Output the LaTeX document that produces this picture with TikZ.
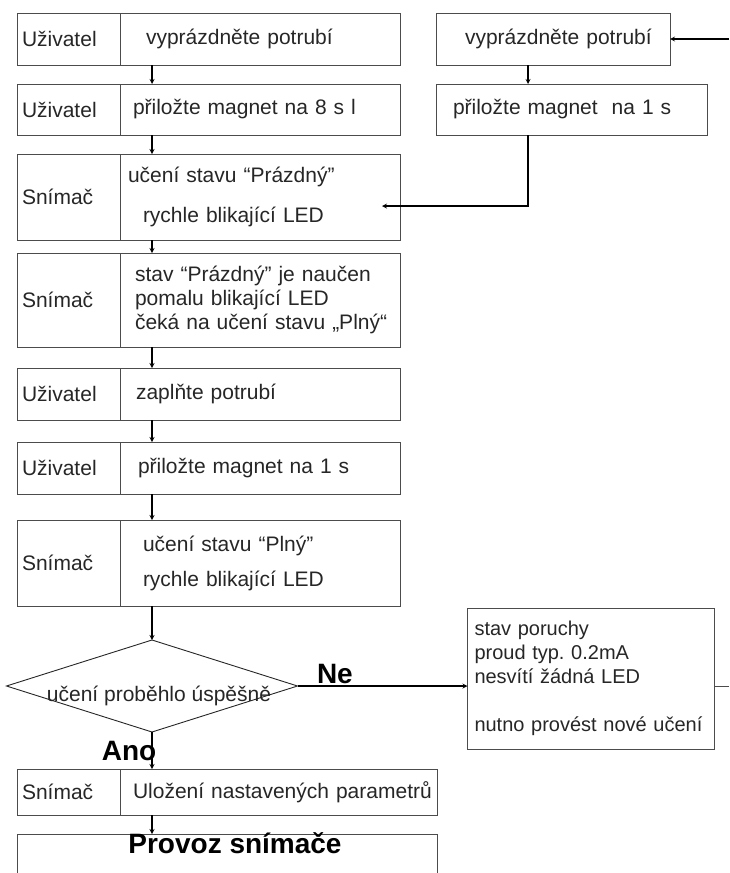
\documentclass[tikz,border=0pt]{standalone}
\usepackage{fontspec}
\setmainfont{Liberation Sans}
\usetikzlibrary{shapes, arrows, positioning}

\begin{document}
\begin{tikzpicture}[
  x=1pt, y=-1pt,
  >=stealth,
  txt/.style={font=\fontsize{21pt}{24pt}\selectfont, text=black!85},
  role/.style={draw=black!70, line width=1pt, rectangle, text width=93pt, inner xsep=5pt, inner ysep=0pt, outer sep=0pt, align=left, txt},
  stepbox/.style={draw=black!70, line width=1pt, rectangle, text width=280pt, inner xsep=0pt, inner ysep=0pt, outer sep=0pt, align=left, txt},
  decision/.style={draw=black!85, line width=0.9pt, diamond, minimum width=291pt, minimum height=92pt, inner sep=0pt, outer sep=0pt},
  finalbox/.style={draw=black!70, line width=1pt, rectangle, minimum width=420pt, minimum height=60pt, inner sep=0pt, outer sep=0pt},
  flow/.style={->, line width=1.2pt, black},
  answer/.style={font=\fontsize{28pt}{30pt}\selectfont\bfseries, inner sep=2pt}
]

\path[use as bounding box, clip] (0,0) rectangle (729,873);

% left column
\node[role, minimum height=52pt, anchor=north west] (r1) at (17,13) {Uživatel};
\node[stepbox, minimum height=52pt, right=0pt of r1] (s1) {\hspace*{26pt}vyprázdněte potrubí};

\node[role, minimum height=51pt, below=19pt of r1] (r2) {Uživatel};
\node[stepbox, minimum height=51pt, right=0pt of r2] (s2) {\hspace*{13pt}přiložte magnet na 8 s l};

\node[role, minimum height=86pt, below=19pt of r2] (r3) {Snímač};
\node[stepbox, minimum height=86pt, right=0pt of r3] (s3)
  {\hspace*{8pt}učení stavu “Prázdný”\\[16pt]\hspace*{23pt}rychle blikající LED};

\node[role, minimum height=94pt, below=13pt of r3] (r4) {Snímač};
\node[stepbox, minimum height=94pt, right=0pt of r4] (s4)
  {\hspace*{15pt}stav “Prázdný” je naučen\\\hspace*{15pt}pomalu blikající LED\\\hspace*{15pt}čeká na učení stavu „Plný“};

\node[role, minimum height=52pt, below=21pt of r4] (r5) {Uživatel};
\node[stepbox, minimum height=52pt, right=0pt of r5] (s5) {\hspace*{16pt}zaplňte potrubí};

\node[role, minimum height=52pt, below=22pt of r5] (r6) {Uživatel};
\node[stepbox, minimum height=52pt, right=0pt of r6] (s6) {\hspace*{18pt}přiložte magnet na 1 s};

\node[role, minimum height=86pt, below=26pt of r6] (r7) {Snímač};
\node[stepbox, minimum height=86pt, right=0pt of r7] (s7)
  {\hspace*{23pt}učení stavu “Plný”\\[11pt]\hspace*{23pt}rychle blikající LED};

% decision
\node[decision, below=34pt of s7.south west, xshift=32pt,
  label={[txt, xshift=7pt, yshift=-10pt]center:učení proběhlo úspěšně}] (dec) {};

\node[role, minimum height=46pt, below=163pt of r7] (r8) {Snímač};
\node[stepbox, text width=317pt, minimum height=46pt, right=0pt of r8] (s8) {\hspace*{13pt}Uložení nastavených parametrů};

\node[finalbox, below=19pt of r8.south west, anchor=north west,
  label={[answer, anchor=north, inner sep=0pt, xshift=8pt, yshift=2pt]north:Provoz snímače}] (run) {};

% right column
\node[stepbox, text width=234pt, minimum height=52pt, right=36pt of s1] (R1) {\hspace*{29pt}vyprázdněte potrubí};
\node[stepbox, text width=271pt, minimum height=51pt, right=36pt of s2] (R2) {\hspace*{17pt}přiložte magnet\ \ na 1 s};

% fault state
\node[stepbox, text width=241pt, inner xsep=3pt, minimum height=141pt, right=170pt of dec, yshift=7.5pt,
  font=\fontsize{20pt}{24pt}\selectfont] (F)
  {\hspace*{4pt}stav poruchy\\\hspace*{4pt}proud typ.\ 0.2mA\\\hspace*{4pt}nesvítí žádná LED\\[24pt]\hspace*{4pt}nutno provést nové učení};

% flows
\coordinate (spine) at ([xshift=32pt]s1.south west);
\coordinate (edge) at (729,0);
\coordinate (back) at ([xshift=-18pt, yshift=-9pt]s3.east);
\coordinate (drop) at ([xshift=92pt]R1.south west);

\draw[flow] (s1.south -| spine) -- (s2.north -| spine);
\draw[flow] (s2.south -| spine) -- (s3.north -| spine);
\draw[flow] (s3.south -| spine) -- (s4.north -| spine);
\draw[flow] (s4.south -| spine) -- (s5.north -| spine);
\draw[flow] (s5.south -| spine) -- (s6.north -| spine);
\draw[flow] (s6.south -| spine) -- (s7.north -| spine);
\draw[flow] (s7.south -| spine) -- (dec.north);

\draw[flow] (dec.south) -- (s8.north -| spine) node[answer, midway, xshift=-23pt] {Ano};
\draw[flow] (s8.south -| spine) -- (run.north -| spine);

\draw[flow] (dec.east) -- (dec.east -| F.west) node[answer, pos=0.22, above] {Ne};
\draw[line width=1pt, black!70] (dec.east -| F.east) -- (dec.east -| edge);

% second teach-in (right)
\draw[flow] (R1.east -| edge) -- (R1.east);
\draw[flow] (drop) -- (drop |- R2.north);
\draw[flow] (drop |- R2.south) |- (back);

\end{tikzpicture}
\end{document}
